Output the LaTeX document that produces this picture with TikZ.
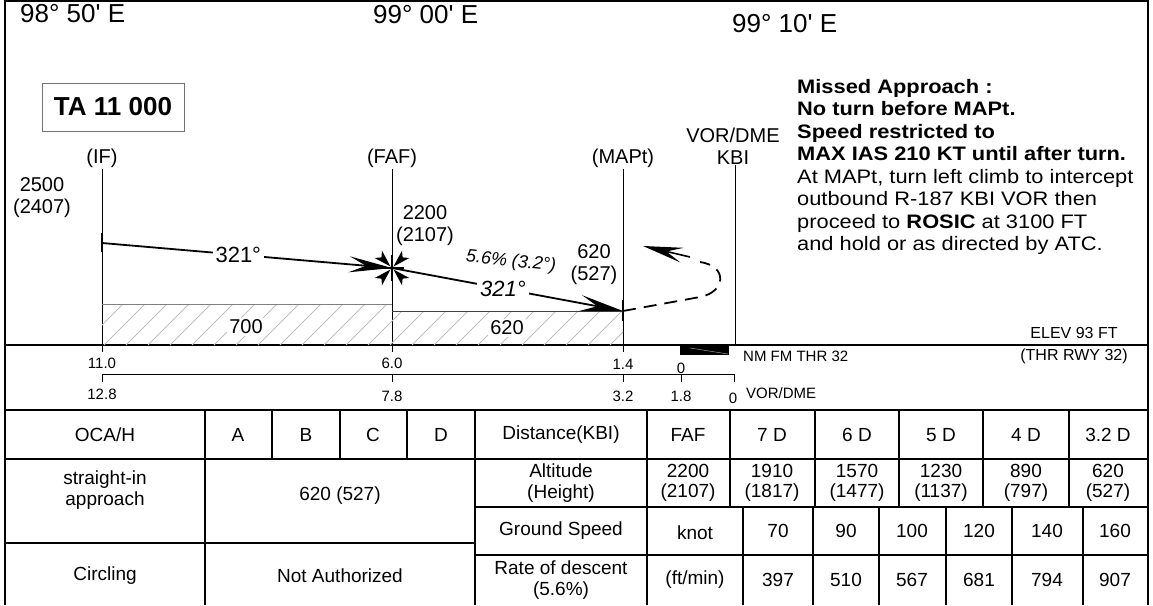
\documentclass[tikz,border=0pt]{standalone}
\usepackage{fontspec}
\setmainfont{Liberation Sans}
\newfontfamily\notefont[FakeStretch=1.12]{Liberation Sans}
\usetikzlibrary{calc, positioning, arrows.meta}

\newcommand{\fsCoord}{\fontsize{26}{28}\selectfont}
\newcommand{\fsFix}{\fontsize{20}{22}\selectfont}
\newcommand{\fsTrk}{\fontsize{22}{24}\selectfont}
\newcommand{\fsNote}{\notefont\fontsize{19.5}{22.5}\selectfont}
\newcommand{\fsScl}{\fontsize{15}{16}\selectfont}
\newcommand{\fsTab}{\fontsize{19}{20.5}\selectfont}

\begin{document}
\begin{tikzpicture}[x=1pt, y=-1pt,
  lbl/.style={inner sep=1pt, font=\fsFix, align=center},
  tab/.style={inner sep=0pt, font=\fsTab, align=center},
  scl/.style={inner sep=0pt, font=\fsScl},
  tabline/.style={line width=1.3pt},
  fixline/.style={line width=0.7pt},
  prof/.style={line width=1.8pt, -{Stealth[length=43pt, width=16pt, inset=17pt]}},
  hatch/.style={black!25, line width=0.8pt},
  tickbar/.style={line width=2.6pt}]
\useasboundingbox (0,0) rectangle (1153,605);
%frame
\draw[line width=2.6pt] (5,0) -- (5,605);
\draw[line width=1.4pt] (4,1) -- (1148,1);
\draw[line width=1.6pt] (1148,0) -- (1148,605);
\draw[tabline] (5,345) -- (1148,345);
\draw[tabline] (5,410) -- (1148,410);
%longitudes
\node[font=\fsCoord, anchor=west, inner sep=0pt] (lon1) at (20,14) {98° 50\textquotesingle{} E};
\node[font=\fsCoord, anchor=west, inner sep=0pt] (lon2) at (373,15) {99° 00\textquotesingle{} E};
\node[font=\fsCoord, anchor=west, inner sep=0pt] (lon3) at (732,24) {99° 10\textquotesingle{} E};
\node[draw=black!55, line width=1pt, minimum width=142pt, minimum height=48pt, font=\bfseries\fsCoord] (ta) at (113,107) {TA 11 000};
%fixes
\node[lbl] (iflbl) at (102,158) {(IF)};
\node[lbl] (faflbl) at (392,158) {(FAF)};
\node[lbl] (maplbl) at (623,158) {(MAPt)};
\node[lbl] (vorlbl) at (733,146) {VOR/DME\\KBI};
\coordinate (ifgnd) at (102,352);
\coordinate (fafgnd) at (392,352);
\coordinate (mapgnd) at (623,352);
\coordinate (vorgnd) at (735,345);
\draw[fixline] (iflbl.south) -- (ifgnd);
\draw[fixline] (faflbl.south) -- (fafgnd);
\draw[fixline] (maplbl.south) -- (mapgnd);
\draw[fixline] (vorlbl.south -| vorgnd) -- (vorgnd);
\node[lbl] (ifalt) at (42,198) {2500\\(2407)};
\node[lbl] (fafalt) at (425,226) {2200\\(2107)};
\node[lbl] (mapalt) at (594,265) {620\\(527)};
%obstacle clearance blocks
\begin{scope}
  \clip (102,304) rectangle (392,345);
  \foreach \h in {60,82,...,400} \draw[hatch] (\h,345) -- ++(50,-50);
\end{scope}
\begin{scope}
  \clip (392,311) rectangle (623,345);
  \foreach \h in {346,368,...,640} \draw[hatch] (\h,345) -- ++(50,-50);
\end{scope}
\draw[black!50, line width=0.8pt] (102,304) -- (392,304);
\draw[black!75, line width=0.8pt] (392,311) -- (623,311);
\node[lbl, fill=white, inner sep=2pt] (oca1) at (246,327) {700};
\node[lbl, fill=white, inner sep=2pt] (oca2) at (507,328) {620};
%profile
\coordinate (if) at (102,243);
\coordinate (faf) at (392,268);
\coordinate (mapt) at (623,311);
\draw[prof] (if) -- node[pos=0.47, fill=white, inner sep=3pt, font=\fsTrk] (trk1) {321°} (faf);
\draw[prof] (faf) -- node[pos=0.48, fill=white, inner sep=3pt, font=\fsTrk\itshape] (trk2) {321°} (mapt);
\node[font=\fontsize{18}{20}\selectfont\itshape, rotate=-6] (slope) at (511,262) {5.6\% (3.2°)};
\draw[tickbar] ($(if)+(0,-10)$) -- ($(if)+(0,9)$);
\draw[tickbar] ($(mapt)+(0,-11)$) -- ($(mapt)+(0,10)$);
%FAF cross
\foreach \a in {45,135,225,315}
  \fill ($(faf)+(\a:2)$) -- ($(faf)+(\a-15:20)$) -- ($(faf)+(\a:15)$) -- ($(faf)+(\a+15:20)$) -- cycle;
\draw[line width=2.2pt] ($(faf)+(0,-13)$) -- ($(faf)+(0,13)$);
\draw[line width=2.2pt] ($(faf)+(-12,0)$) -- ($(faf)+(12,0)$);
%missed approach
\coordinate (ma1) at (700,297);
\coordinate (ma2) at (700,262);
\coordinate (maarr) at (690,257);
\coordinate (maend) at (643,246);
\draw[line width=1.8pt, dash pattern=on 13pt off 8pt] (mapt) -- (ma1) .. controls (726,292) and (728,266) .. (ma2);
\draw[line width=1.6pt, -{Stealth[length=40pt, width=15pt, inset=16pt]}] (maarr) -- (maend);
\node[anchor=north west, inner sep=0pt, align=left, font=\fsNote] (note) at (797,79)
  {\textbf{Missed Approach :}\\
   \textbf{No turn before MAPt.}\\
   \textbf{Speed restricted to}\\
   \textbf{MAX IAS 210 KT until after turn.}\\
   At MAPt, turn left climb to intercept\\
   outbound R-187 KBI VOR then\\
   proceed to \textbf{ROSIC} at 3100 FT\\
   and hold or as directed by ATC.};
%distance scales
\node[scl] (d110) at (102,363) {11.0};
\node[scl] (d60) at (392,363) {6.0};
\node[scl] (d14) at (623,364) {1.4};
\node[scl] (d0) at (681,368) {0};
\fill (680,346) rectangle (729,355);
\draw[black!40, line width=0.5pt] (690,348) -- (728,354);
\node[scl, anchor=west] (thr) at (743,356) {NM FM THR 32};
\coordinate (dmel) at (102,374);
\coordinate (dmer) at (734,374);
\draw[line width=1pt] (dmel) -- (dmer);
\foreach \x in {102,392,623,681,734} \draw[line width=1pt] (\x,374) -- (\x,382);
\node[scl] (m128) at (102,394) {12.8};
\node[scl] (m78) at (392,396) {7.8};
\node[scl] (m32) at (623,396) {3.2};
\node[scl] (m18) at (681,396) {1.8};
\node[scl] (m0) at (733,398) {0};
\node[scl, anchor=west] (dme) at (746,393) {VOR/DME};
\node[font=\fontsize{16}{22}\selectfont, align=center, inner sep=0pt] (elev) at (1074,346) {ELEV 93 FT\\(THR RWY 32)};
%table
\draw[tabline] (205,410) -- (205,605);
\foreach \x in {272,340,407} \draw[tabline] (\x,410) -- (\x,459);
\draw[tabline] (475,410) -- (475,605);
\draw[tabline] (647,410) -- (647,605);
\foreach \x in {730,815,899,983,1069} \draw[tabline] (\x,410) -- (\x,507);
\foreach \x in {743,813,879,946,1012,1083} \draw[tabline] (\x,507) -- (\x,605);
\draw[tabline] (5,459) -- (1148,459);
\draw[tabline] (475,507) -- (1148,507);
\draw[tabline] (475,555) -- (1148,555);
\draw[tabline] (5,543) -- (475,543);
\node[tab] (hoca) at (105,435) {OCA/H};
\foreach \c/\x in {A/238, B/306, C/373, D/441} \node[tab] (cat\c) at (\x,435) {\c};
\node[tab] (hstr) at (105,490) {straight-in\\approach};
\node[tab] (ocastr) at (340,496) {620 (527)};
\node[tab] (hcirc) at (105,576) {Circling};
\node[tab] (ocacirc) at (340,576) {Not Authorized};
\node[tab] (hdist) at (561,435) {Distance(KBI)};
\foreach \n/\t/\x in {a/FAF/688, b/7 D/772, c/6 D/857, d/5 D/941, e/4 D/1026, f/3.2 D/1108}
  \node[tab] (dist\n) at (\x,435) {\t};
\node[tab] (halt) at (561,483) {Altitude\\(Height)};
\foreach \n/\a/\h/\x in {a/2200/2107/688, b/1910/1817/772, c/1570/1477/857, d/1230/1137/941, e/890/797/1026, f/620/527/1108}
  \node[tab] (alt\n) at (\x,483) {\a\\(\h)};
\node[tab] (hgs) at (561,531) {Ground Speed};
\node[tab] (gsunit) at (695,533) {knot};
\foreach \n/\v/\x in {a/70/778, b/90/846, c/100/912, d/120/979, e/140/1047, f/160/1115}
  \node[tab] (gs\n) at (\x,531) {\v};
\node[tab] (hrod) at (561,580) {Rate of descent\\(5.6\%)};
\node[tab] (rodunit) at (695,580) {(ft/min)};
\foreach \n/\v/\x in {a/397/778, b/510/846, c/567/912, d/681/979, e/794/1047, f/907/1115}
  \node[tab] (rod\n) at (\x,580) {\v};
\end{tikzpicture}
\end{document}
